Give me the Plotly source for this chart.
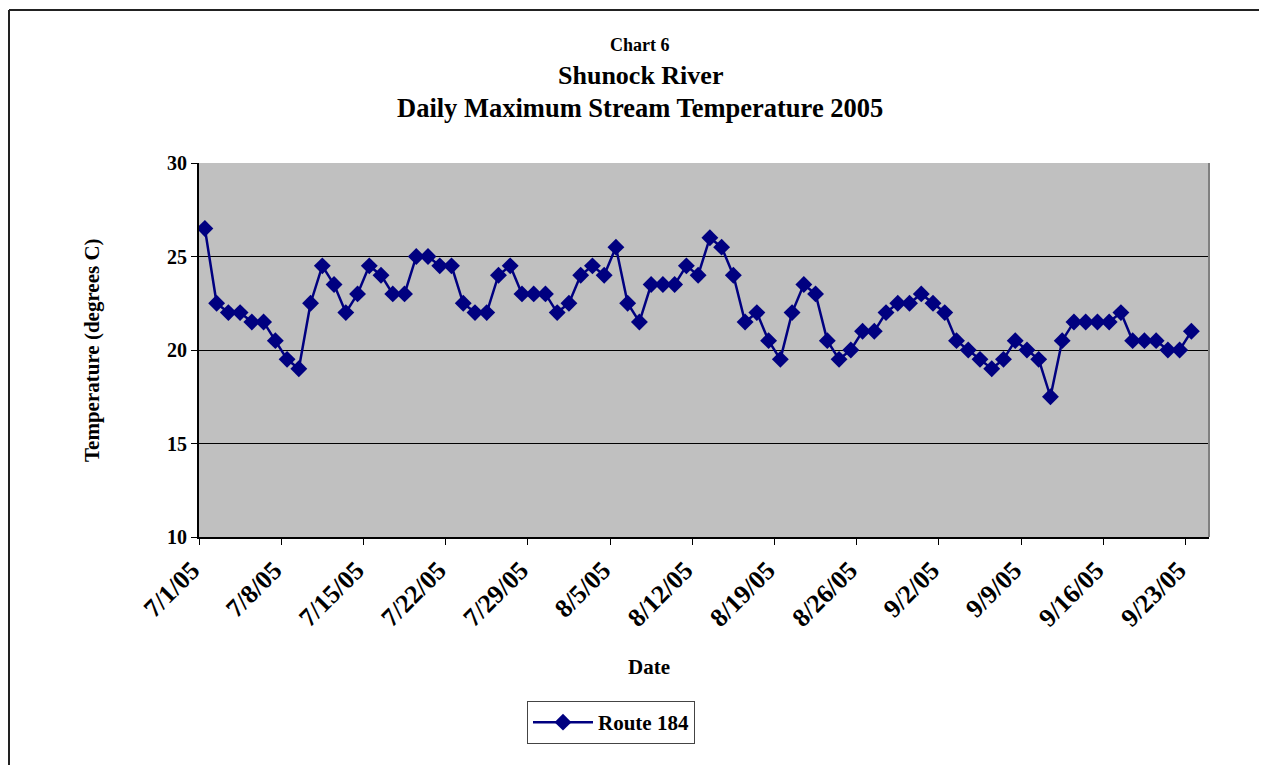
import pandas as pd
import plotly.graph_objects as go

# === Data: daily max temperature, Route 184 (7/1/05 - 9/23/05) ===
start_date = "2005-07-01 12:00"
temps = [
    26.5, 22.5, 22, 22, 21.5, 21.5, 20.5, 19.5, 19, 22.5,
    24.5, 23.5, 22, 23, 24.5, 24, 23, 23, 25, 25,
    24.5, 24.5, 22.5, 22, 22, 24, 24.5, 23, 23, 23,
    22, 22.5, 24, 24.5, 24, 25.5, 22.5, 21.5, 23.5, 23.5,
    23.5, 24.5, 24, 26, 25.5, 24, 21.5, 22, 20.5, 19.5,
    22, 23.5, 23, 20.5, 19.5, 20, 21, 21, 22, 22.5,
    22.5, 23, 22.5, 22, 20.5, 20, 19.5, 19, 19.5, 20.5,
    20, 19.5, 17.5, 20.5, 21.5, 21.5, 21.5, 21.5, 22, 20.5,
    20.5, 20.5, 20, 20, 21,
]
dates = pd.date_range(start_date, periods=len(temps), freq="D")
series_name = "Route 184"

FONT = "Liberation Serif"
PAGE_W, PAGE_H = 1267, 773
OFF = 8  # default body margin of the page
W, H = PAGE_W - 2 * OFF, PAGE_H - 2 * OFF
L, R, T, B = 199, 1209, 163, 537  # plot area in page pixels

fig = go.Figure()
fig.add_trace(go.Scatter(
    x=dates, y=temps, name="<b>" + series_name + "</b>", mode="lines+markers",
    line=dict(color="#000080", width=2.5),
    marker=dict(symbol="diamond", size=13, color="#000080"),
))

def px_x(p):
    return (p - L) / (R - L)

def px_y(p):
    return (B - p) / (B - T)

# === Titles ===
titles = [("<b>Chart 6</b>", 45, 18), ("<b>Shunock River</b>", 76, 26),
          ("<b>Daily Maximum Stream Temperature 2005</b>", 108, 26.5)]
for txt, ypix, size in titles:
    fig.add_annotation(text=txt, x=px_x(640), y=px_y(ypix), xref="paper", yref="paper",
                       showarrow=False, font=dict(family=FONT, size=size, color="black"),
                       xanchor="center", yanchor="middle")

fig.add_annotation(text="<b>Date</b>", x=px_x(649), y=px_y(667), xref="paper", yref="paper",
                   showarrow=False, font=dict(family=FONT, size=21, color="black"),
                   yanchor="middle")
fig.add_annotation(text="<b>Temperature (degrees C)</b>", x=px_x(78), y=px_y(350),
                   xref="paper", yref="paper", showarrow=False, textangle=-90,
                   font=dict(family=FONT, size=21, color="black"))

# === Outer chart border ===
fig.add_shape(type="line", xref="paper", yref="paper", x0=px_x(9), x1=px_x(1267),
              y0=px_y(10), y1=px_y(10), line=dict(color="#222222", width=2))
fig.add_shape(type="line", xref="paper", yref="paper", x0=px_x(9), x1=px_x(9),
              y0=px_y(10), y1=px_y(773), line=dict(color="#222222", width=2))

fig.update_layout(
    width=W, height=H,
    margin=dict(l=L - OFF, r=W - (R - OFF), t=T - OFF, b=H - (B - OFF), autoexpand=False),
    paper_bgcolor="white", plot_bgcolor="#C0C0C0",
    font=dict(family=FONT, color="black"),
    showlegend=True,
    legend=dict(x=px_x(527), y=px_y(701), xanchor="left", yanchor="top",
                bordercolor="#444444", borderwidth=1, bgcolor="white",
                font=dict(family=FONT, size=21, color="black"),
                itemwidth=60, tracegroupgap=0),
)

fig.update_xaxes(
    type="date", range=["2005-07-01", "2005-09-25"],
    tick0="2005-07-01", dtick=7 * 86400000, tickformat="%-m/%-d/%y",
    tickprefix="<b>", ticksuffix="</b>",
    tickangle=-45, ticks="outside", ticklen=6, tickcolor="black",
    ticklabelstandoff=0, ticklabelshift=-7,
    tickfont=dict(family=FONT, size=26, color="black"),
    showgrid=False, showline=True, linecolor="black", linewidth=1.5, mirror=False,
)
fig.update_yaxes(
    range=[10, 30], dtick=5, ticks="outside", ticklen=6, tickcolor="black",
    tickfont=dict(family=FONT, size=20, color="black"),
    tickprefix="<b>", ticksuffix="</b>",
    showgrid=True, gridcolor="black", gridwidth=1,
    showline=True, linecolor="black", linewidth=2, zeroline=False,
)
fig.add_shape(type="line", xref="paper", yref="paper", x0=1, x1=1, y0=0, y1=1,
              line=dict(color="#808080", width=2))

fig.write_html("out.html")
